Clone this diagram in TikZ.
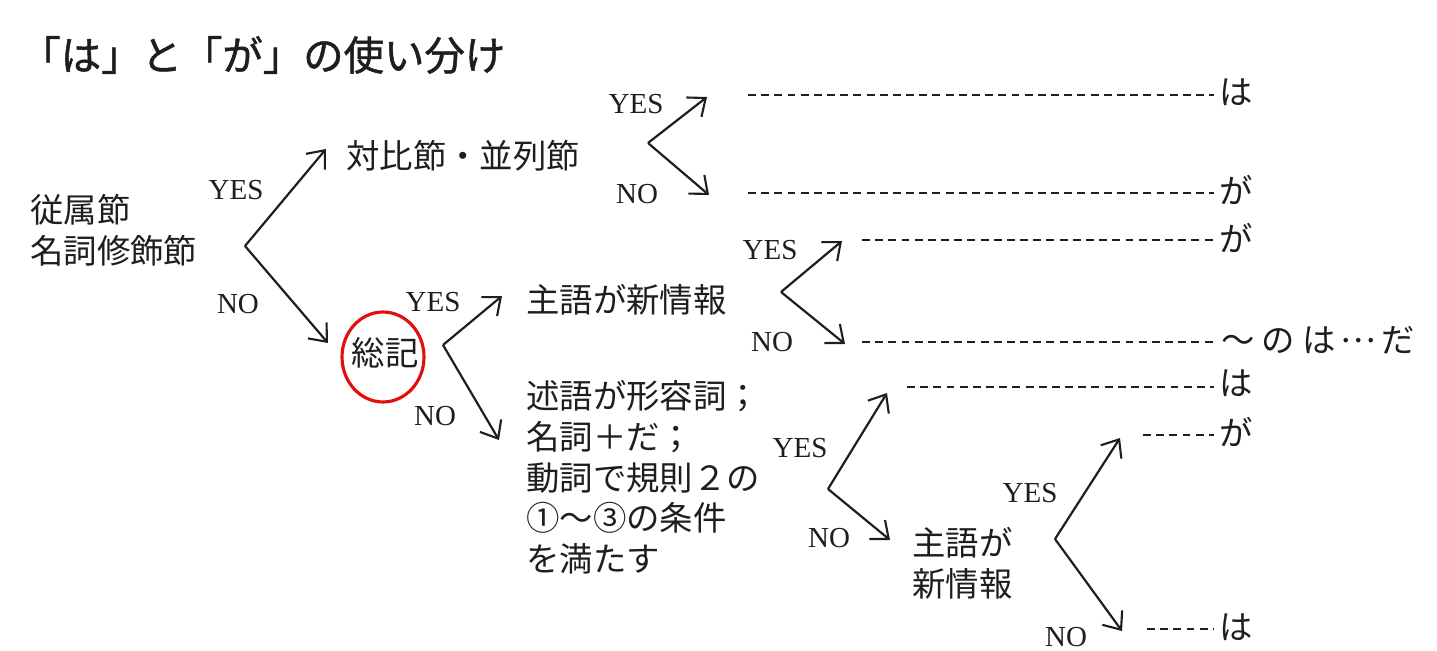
\documentclass[tikz,border=0pt]{standalone}
\usepackage{fontspec}
\setmainfont{Liberation Serif}
\newfontfamily\jp{Noto Sans CJK JP}
\newfontfamily\jptitle{Noto Sans CJK JP}[FakeBold=1.2]
\usetikzlibrary{arrows.meta}
\definecolor{ink}{RGB}{30,30,30}
\definecolor{ringred}{RGB}{225,15,15}
\begin{document}
\begin{tikzpicture}[x=0.02cm,y=-0.02cm,
  arr/.style={draw=ink, line width=1.25pt, -{Straight Barb[length=8.5pt,width=14pt,line width=1.2pt]}},
  dotline/.style={draw=ink, line width=0.8pt, dash pattern=on 4.5pt off 3pt, shorten >=3pt},
  jtext/.style={text=ink, font=\jp\fontsize{19}{23.2}\selectfont, inner sep=0pt},
  lab/.style={text=ink, font=\fontsize{16.5}{18}\selectfont, inner sep=0pt},
  ring/.style={draw=ringred, line width=1.8pt},
]
\useasboundingbox[fill=white] (0,0) rectangle (1437,651);

% title
\node[text=ink, font=\jptitle\fontsize{23}{27}\selectfont, inner sep=0pt, anchor=west] (title) at (20,55) {「は」と「が」の使い分け};

% start
\node[jtext, align=left, anchor=west] (start) at (30,230) {従属節\\名詞修飾節};

% branch 1
\coordinate (v1) at (245,246);
\coordinate (t1y) at (326,149);
\coordinate (t1n) at (328,343);
\draw[arr] (v1) -- (t1y);
\draw[arr] (v1) -- (t1n);
\node[lab] (y1) at (236,190) {YES};
\node[lab] (n1) at (238,304) {NO};

\node[jtext, anchor=west] (taihi) at (346,156) {対比節・並列節};

% branch 2
\coordinate (v2) at (648,143);
\coordinate (t2y) at (707,97);
\coordinate (t2n) at (709,195);
\draw[arr] (v2) -- (t2y);
\draw[arr] (v2) -- (t2n);
\node[lab] (y2) at (636,104) {YES};
\node[lab] (n2) at (637,194) {NO};
\node[jtext, anchor=west] (r1) at (1219,92) {は};
\node[jtext, anchor=west] (r2) at (1219,190) {が};
\coordinate (d1) at (748,95);
\coordinate (d2) at (748,193);
\draw[dotline] (d1) -- (d1 -| r1.west);
\draw[dotline] (d2) -- (d2 -| r2.west);

% souki
\node[jtext] (souki) at (385,353) {総記};
\draw[ring] (383,357) ellipse [x radius=0.82cm, y radius=0.9cm];

% branch 3
\coordinate (v3) at (443,345);
\coordinate (t3y) at (502,296);
\coordinate (t3n) at (499,440);
\draw[arr] (v3) -- (t3y);
\draw[arr] (v3) -- (t3n);
\node[lab] (y3) at (433,302) {YES};
\node[lab] (n3) at (435,416) {NO};

\node[jtext, anchor=west] (shugo1) at (526,300) {主語が新情報};
\node[jtext, align=left, anchor=north west] (jutsugo) at (526,380) {述語が形容詞；\\名詞＋だ；\\動詞で規則２の\\①〜③の条件\\を満たす};

% branch 4
\coordinate (v4) at (781,292);
\coordinate (t4y) at (842,241);
\coordinate (t4n) at (845,344);
\draw[arr] (v4) -- (t4y);
\draw[arr] (v4) -- (t4n);
\node[lab] (y4) at (770,250) {YES};
\node[lab] (n4) at (772,342) {NO};
\node[jtext, anchor=west] (r3) at (1219,238) {が};
\node[jtext, anchor=west] (r4) at (1221,340) {〜\kern4pt の\kern4pt は\kern3pt \raisebox{0.3em}{…}\kern3pt だ};
\coordinate (d3) at (862,240);
\coordinate (d4) at (862,342);
\draw[dotline] (d3) -- (d3 -| r3.west);
\draw[dotline] (d4) -- (d4 -| r4.west);

% branch 5
\coordinate (v5) at (828,489);
\coordinate (t5y) at (887,393);
\coordinate (t5n) at (890,540);
\draw[arr] (v5) -- (t5y);
\draw[arr] (v5) -- (t5n);
\node[lab] (y5) at (800,448) {YES};
\node[lab] (n5) at (829,538) {NO};
\node[jtext, anchor=west] (r5) at (1219,383) {は};
\coordinate (d5) at (907,387);
\draw[dotline] (d5) -- (d5 -| r5.west);

\node[jtext, align=left, anchor=west] (shugo2) at (912,563) {主語が\\新情報};

% branch 6
\coordinate (v6) at (1055,539);
\coordinate (t6y) at (1120,438);
\coordinate (t6n) at (1122,631);
\draw[arr] (v6) -- (t6y);
\draw[arr] (v6) -- (t6n);
\node[lab] (y6) at (1030,493) {YES};
\node[lab] (n6) at (1066,637) {NO};
\node[jtext, anchor=west] (r6) at (1219,432) {が};
\node[jtext, anchor=west] (r7) at (1219,627) {は};
\coordinate (d6) at (1143,435);
\coordinate (d7) at (1147,629);
\draw[dotline] (d6) -- (d6 -| r6.west);
\draw[dotline] (d7) -- (d7 -| r7.west);
\end{tikzpicture}
\end{document}
